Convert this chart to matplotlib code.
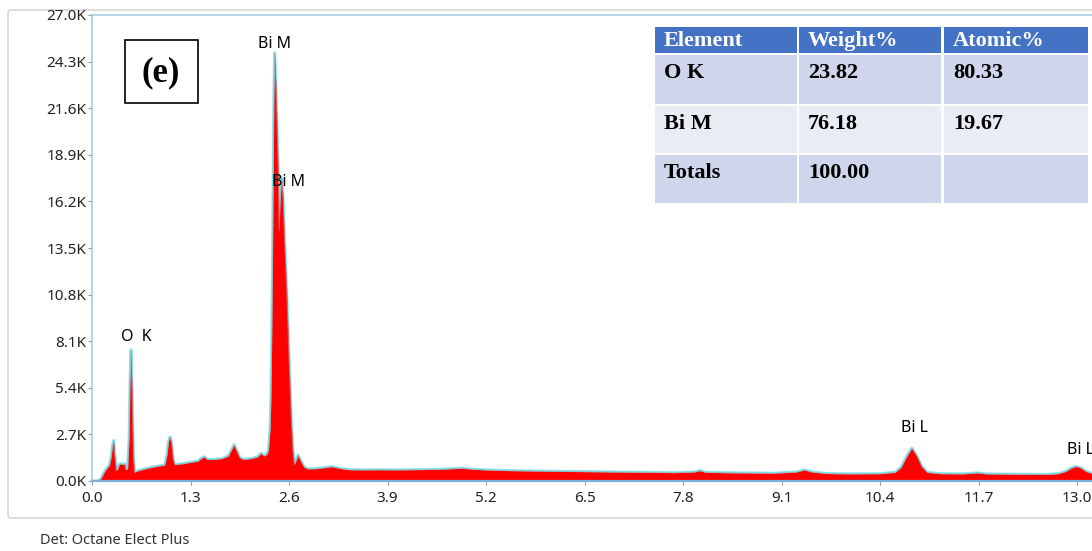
import numpy as np
import matplotlib.pyplot as plt
from matplotlib.patches import Rectangle, FancyBboxPatch

# EDS spectrum, energy (keV) vs counts
energy_kev = [0.00, 0.08, 0.12, 0.16, 0.20, 0.23, 0.25, 0.27, 0.285, 0.30, 0.32, 0.34,
              0.36, 0.38, 0.41, 0.43, 0.45, 0.47, 0.49, 0.50, 0.515, 0.53, 0.545, 0.56,
              0.60, 0.70, 0.80, 0.90, 0.96, 0.99, 1.01, 1.03, 1.05, 1.07, 1.09, 1.20,
              1.30, 1.40, 1.44, 1.48, 1.52, 1.62, 1.72, 1.80, 1.84, 1.875, 1.91, 1.95,
              2.00, 2.10, 2.18, 2.23, 2.27, 2.31, 2.33, 2.35, 2.36, 2.37, 2.38, 2.39,
              2.40, 2.41, 2.42, 2.44, 2.46, 2.47, 2.48, 2.50, 2.52, 2.54, 2.57, 2.60,
              2.63, 2.65, 2.67, 2.70, 2.72, 2.75, 2.80, 2.85, 2.95, 3.05, 3.16, 3.28,
              3.40, 3.60, 3.80, 4.00, 4.20, 4.40, 4.60, 4.80, 4.88, 5.00, 5.20, 5.50,
              5.80, 6.10, 6.50, 6.90, 7.30, 7.70, 7.95, 8.02, 8.10, 8.50, 9.00, 9.30,
              9.40, 9.50, 9.70, 10.00, 10.40, 10.60, 10.68, 10.75, 10.82, 10.88, 10.95,
              11.02, 11.20, 11.50, 11.69, 11.80, 12.20, 12.60, 12.75, 12.85, 12.93,
              12.99, 13.05, 13.12, 13.20, 13.40]
counts = [0, 0, 150, 500, 750, 900, 1300, 2000, 2350, 1500, 600, 700,
          950, 1000, 950, 1000, 650, 700, 2500, 5500, 7600, 5000, 1500, 500,
          580, 700, 800, 880, 920, 1500, 2300, 2550, 2200, 1300, 950, 1000,
          1080, 1150, 1300, 1400, 1250, 1250, 1300, 1450, 1800, 2100, 1750, 1350,
          1250, 1300, 1380, 1600, 1450, 1550, 1800, 3000, 4500, 7500, 11500, 17000,
          22000, 24800, 23800, 21000, 17500, 14500, 16000, 17600, 16500, 14000, 11000, 7000,
          3500, 1800, 950, 1250, 1500, 1200, 800, 700, 710, 760, 830, 720,
          650, 640, 650, 640, 650, 660, 680, 720, 740, 690, 640, 600,
          580, 560, 540, 520, 500, 480, 520, 600, 500, 470, 450, 520,
          640, 520, 430, 410, 420, 500, 800, 1400, 1900, 1500, 850,
          500, 420, 410, 470, 410, 390, 380, 420, 550, 760,
          840, 760, 550, 430, 400]

# peak labels
peak_names = ['Bi M', 'Bi M', 'O  K', 'Bi L', 'Bi L']
peak_x = [2.415, 2.59, 0.58, 10.86, 13.04]
peak_y = [25300, 17300, 8350, 3070, 1800]

# quantification table
table_header = ['Element', 'Weight%', 'Atomic%']
elements = ['O K', 'Bi M', 'Totals']
weight_pct = ['23.82', '76.18', '100.00']
atomic_pct = ['80.33', '19.67', '']

plt.rcParams['font.family'] = ['Noto Sans', 'DejaVu Sans']

W, H = 1092, 551
fig = plt.figure(figsize=(W / 100, H / 100), dpi=100)

def fx(px):
    return px / W

def fy(py):
    return 1 - py / H

# outer panel
panel = FancyBboxPatch((fx(8), fy(518)), fx(1100 - 8), (518 - 10) / H,
                       boxstyle='round,pad=0,rounding_size=0.004',
                       transform=fig.transFigure, facecolor='none',
                       edgecolor='#d6d6d6', lw=1.2, zorder=0)
fig.patches.append(panel)

xmax = 13.4
ax = fig.add_axes([fx(92), fy(481), fx(xmax * 75.77), 466 / H])
ax.set_zorder(3)
ax.set_facecolor('none')
ax.plot(energy_kev, counts, color='#7fe6f2', lw=2.2, zorder=1)
ax.fill_between(energy_kev, counts, 0, color='#ff0000', lw=0, zorder=2)
ax.plot(energy_kev, counts, color='#b0a0a0', lw=0.6, alpha=0.7, zorder=3)

ax.set_xlim(0, xmax)
ax.set_ylim(0, 27000)
yt = np.arange(0, 27001, 2700)
ax.set_yticks(yt)
ax.set_yticklabels([f'{v / 1000:.1f}K' for v in yt])
xt = np.round(np.arange(0, 13.01, 1.3), 1)
ax.set_xticks(xt)
ax.set_xticklabels([f'{v:.1f}' for v in xt])
ax.tick_params(axis='both', labelsize=11, colors='#999999', labelcolor='#222222',
               length=3, width=0.8)
ax.tick_params(axis='x', pad=4)
ax.tick_params(axis='y', pad=1)
for side in ['left', 'top']:
    ax.spines[side].set_color('#a9cbe4')
    ax.spines[side].set_linewidth(1.2)
ax.spines['bottom'].set_color('#7fb0d8')
ax.spines['bottom'].set_linewidth(1.6)
ax.spines['right'].set_visible(False)

for name, x, y in zip(peak_names, peak_x, peak_y):
    ax.text(x, y, name, ha='center', va='center', fontsize=11.5, color='black', zorder=5)

# panel label
fig.patches.append(Rectangle((fx(125), fy(103)), fx(73), 63 / H, transform=fig.transFigure,
                             facecolor='white', edgecolor='black', lw=1.2, zorder=4))
fig.text(fx(161), fy(73), '(e)', ha='center', va='center', fontsize=25,
         fontweight='bold', family='Liberation Serif', zorder=5)

# table
col_x = [(655, 797), (799, 941), (944, 1088)]
row_y = [(27, 53), (55, 104), (106, 153), (155, 203)]
row_colors = ['#4472c4', '#cfd5ea', '#e9ebf5', '#cfd5ea']
rows = [table_header] + [list(r) for r in zip(elements, weight_pct, atomic_pct)]
for i, (y0, y1) in enumerate(row_y):
    for j, (x0, x1) in enumerate(col_x):
        fig.patches.append(Rectangle((fx(x0), fy(y1)), fx(x1 - x0), (y1 - y0) / H,
                                     transform=fig.transFigure, facecolor=row_colors[i],
                                     edgecolor='none', zorder=4))
        if i == 0:
            fig.text(fx(x0 + 9), fy((y0 + y1) / 2 + 1), rows[i][j], ha='left', va='center',
                     fontsize=16, fontweight='bold', color='white',
                     family='Liberation Serif', zorder=5)
        else:
            fig.text(fx(x0 + 9), fy(y0 + 18), rows[i][j], ha='left', va='center',
                     fontsize=16, fontweight='bold', color='black',
                     family='Liberation Serif', zorder=5)

fig.text(fx(40), fy(541), 'Det: Octane Elect Plus', ha='left', va='center',
         fontsize=10.5, color='#333333')

fig.savefig('out.png', dpi=100)
